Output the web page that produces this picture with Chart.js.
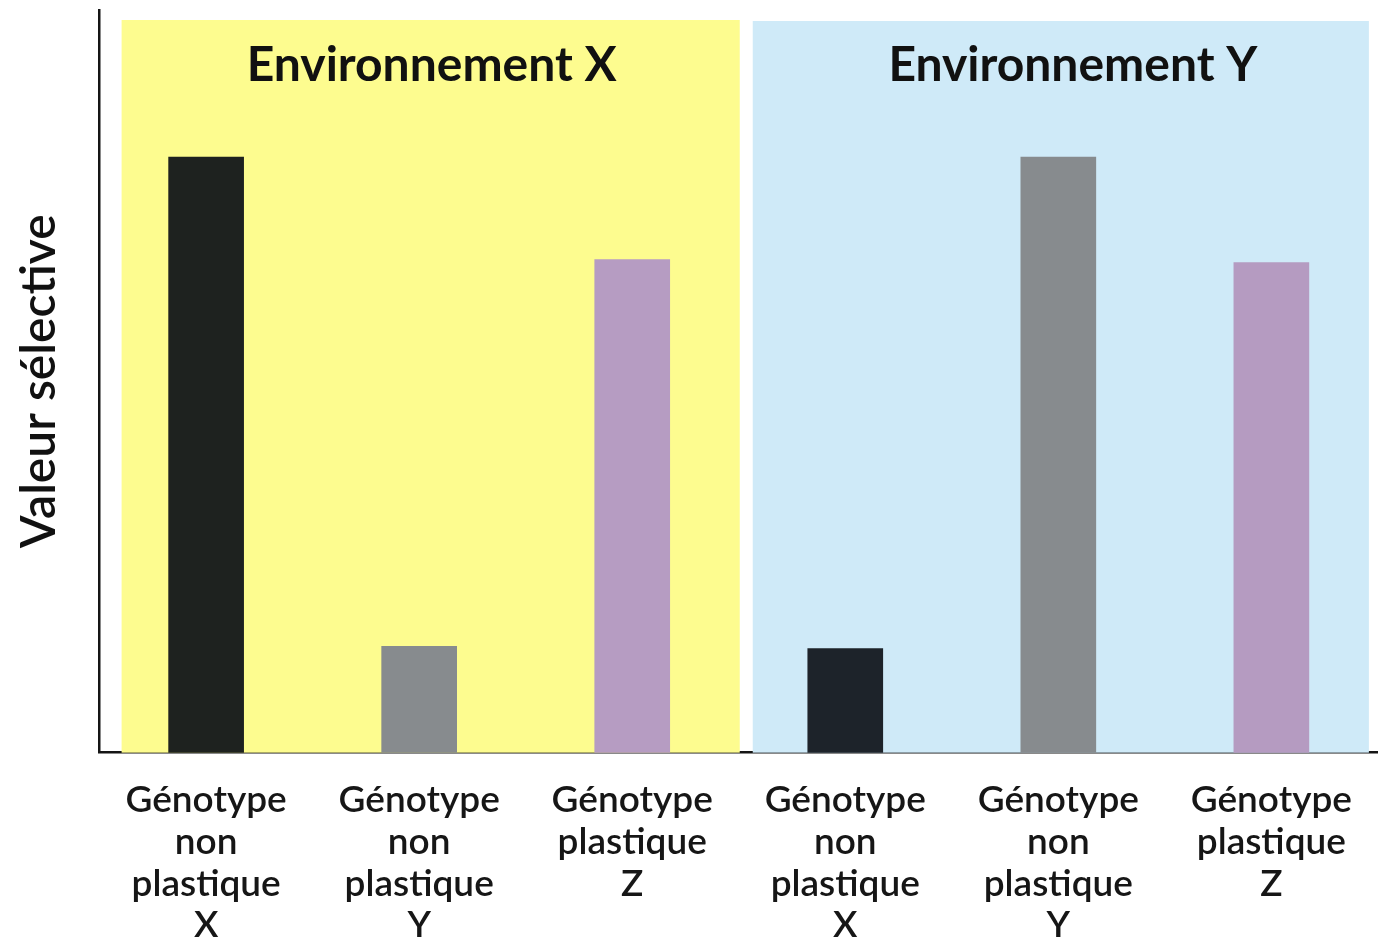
<!DOCTYPE html>
<html lang="fr">
<head>
<meta charset="utf-8">
<title>Valeur sélective</title>
<script src="https://cdn.jsdelivr.net/npm/chart.js@4.4.1/dist/chart.umd.min.js"></script>
<style>
  html, body { margin: 0; padding: 0; background: #fff; overflow: hidden; }
  #wrap { width: 1379px; height: 973px; }
</style>
</head>
<body>
<div id="wrap"><canvas id="fitness" width="1379" height="973"></canvas></div>
<script>
// genotypes, grouped by environment
var categories = [
    ['Génotype', 'non', 'plastique', 'X'],
    ['Génotype', 'non', 'plastique', 'Y'],
    ['Génotype', 'plastique', 'Z'],
    ['Génotype', 'non', 'plastique', 'X'],
    ['Génotype', 'non', 'plastique', 'Y'],
    ['Génotype', 'plastique', 'Z']
];
var fitness = [80.2, 14.3, 66.4, 14.0, 80.2, 66.0];
var environments = ['Environnement X', 'Environnement Y'];
var envOfCategory = [0, 0, 0, 1, 1, 1];

var barColors = ['#1e221f', '#878b8e', '#b69cc2', '#1d232a', '#878b8e', '#b59bc1'];
var panelColors = ['#fdfc8f', '#cfeaf8'];
// px insets from the group's category boundaries: [left, right]
var panelInsets = [[22, -1], [14, 9]];

var envPanels = {
    id: 'envPanels',
    beforeDatasetsDraw: function (chart) {
        var ctx = chart.ctx;
        var area = chart.chartArea;
        var xs = chart.scales.x;
        var step = xs.width / categories.length;

        environments.forEach(function (name, g) {
            var idx = [];
            envOfCategory.forEach(function (e, i) { if (e === g) idx.push(i); });
            var left = xs.getPixelForTick(idx[0]) - step / 2 + panelInsets[g][0];
            var right = xs.getPixelForTick(idx[idx.length - 1]) + step / 2 - panelInsets[g][1];
            var top = area.top + 10 + g;

            ctx.save();
            ctx.fillStyle = panelColors[g];
            ctx.fillRect(left, top, right - left, area.bottom - top);

            ctx.fillStyle = '#111';
            ctx.font = 'bold 48px Lato, "Open Sans", sans-serif';
            ctx.textAlign = 'center';
            ctx.textBaseline = 'middle';
            ctx.fillText(name, (left + right) / 2 + (g === 0 ? 1 : 12), area.top + 56);
            ctx.restore();
        });
    }
};

new Chart(document.getElementById('fitness'), {
    type: 'bar',
    data: {
        labels: categories,
        datasets: [{
            data: fitness,
            backgroundColor: barColors,
            borderWidth: 0,
            barThickness: 75
        }]
    },
    options: {
        responsive: false,
        animation: false,
        events: [],
        layout: { padding: { top: 10, left: 0, right: 0, bottom: 0 } },
        plugins: {
            legend: { display: false },
            tooltip: { enabled: false }
        },
        scales: {
            x: {
                grid: { display: false, drawTicks: false },
                border: { display: true, color: '#151515', width: 2.5 },
                ticks: {
                    color: '#161616',
                    padding: 27,
                    maxRotation: 0,
                    autoSkip: false,
                    font: { family: 'Lato, "Open Sans", sans-serif', size: 37, weight: '600', lineHeight: 1.124 }
                }
            },
            y: {
                min: 0,
                max: 100,
                grid: { display: false, drawTicks: false },
                border: { display: true, color: '#151515', width: 2.5 },
                ticks: { display: false },
                title: {
                    display: true,
                    text: 'Valeur sélective',
                    color: '#111',
                    padding: { top: 11, bottom: 31 },
                    font: { family: 'Lato, "Open Sans", sans-serif', size: 48, weight: '600', lineHeight: 1.2 }
                }
            }
        }
    },
    plugins: [envPanels]
});
</script>
</body>
</html>
